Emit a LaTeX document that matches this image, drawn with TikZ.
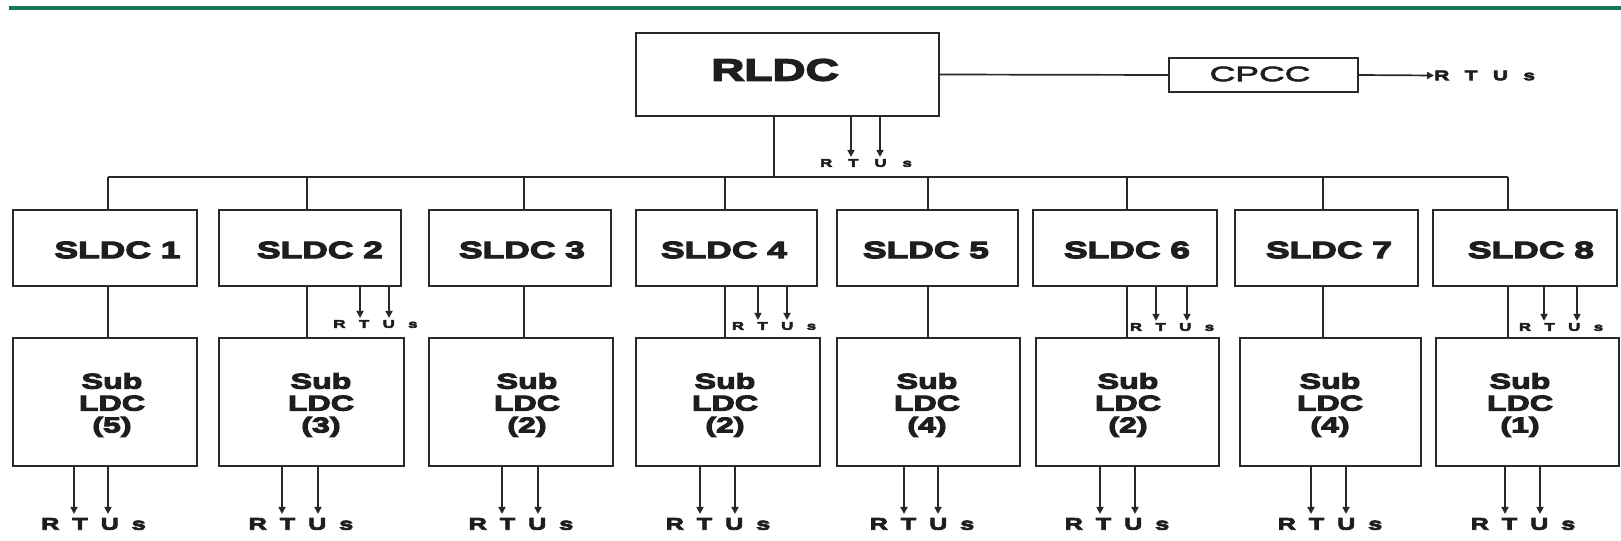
\documentclass[tikz,border=0pt]{standalone}
\usepackage{fontspec}
\setmainfont{Liberation Sans}
\newfontfamily\wf{Liberation Sans}[FakeStretch=1.5,FakeBold=5]
\newfontfamily\cf{Liberation Sans}[FakeStretch=1.7,FakeBold=3]
\usetikzlibrary{arrows.meta}
\definecolor{hdr}{RGB}{22,118,82}
\definecolor{ln}{RGB}{40,40,40}
\definecolor{tx}{RGB}{30,30,30}
\newcommand\rtus[1]{R\hspace{#1}T\hspace{#1}U\hspace{#1}s}
\begin{document}
\begin{tikzpicture}[x=1bp,y=-1bp,
  box/.style={draw=ln,line width=1.9bp,inner sep=0pt},
  conn/.style={draw=ln,line width=1.7bp},
  arr/.style={conn,-{Triangle[length=7bp,width=7bp]}},
  rldcf/.style={text=tx,inner sep=0pt,font=\wf\bfseries\fontsize{30.7}{32}\selectfont},
  cpccf/.style={text=tx,inner sep=0pt,font=\cf\fontsize{21}{22}\selectfont},
  sldcf/.style={text=tx,inner sep=0pt,font=\wf\bfseries\fontsize{23.7}{25}\selectfont},
  subf/.style={text=tx,inner sep=0pt,align=center,font=\wf\bfseries\fontsize{21.5}{22}\selectfont},
  rtb/.style={text=tx,inner sep=0pt,font=\wf\bfseries\fontsize{16.8}{17}\selectfont},
  rts/.style={text=tx,inner sep=0pt,font=\wf\bfseries\fontsize{11.2}{12}\selectfont},
  rtm/.style={text=tx,inner sep=0pt,font=\wf\bfseries\fontsize{14}{15}\selectfont},
]
\useasboundingbox (0,0) rectangle (1621,541);
% header rule
\draw[hdr,line width=4bp] (9,8.5) -- (1621,8.5);

% top level
\node[box,minimum width=303bp,minimum height=83bp] (rldc) at (787.5,74.5) {};
\node[rldcf] (rldct) at (775,70) {RLDC};
\node[box,minimum width=189bp,minimum height=34bp] (cpcc) at (1263.5,75) {};
\node[cpccf] (cpcct) at (1260,74) {CPCC};
\draw[conn] (rldc.east) -- (cpcc.west);
\node[rtm,anchor=west] (cpr) at (1434,75.5) {\rtus{15.4bp}};
\draw[arr] (cpcc.east) -- (cpr.west);

\node[rts] (rr) at (866,163) {\rtus{16bp}};
\coordinate (rra) at (851,0);
\coordinate (rrb) at (880,0);
\draw[arr,shorten >=2bp] (rldc.south -| rra) -- (rr.north -| rra);
\draw[arr,shorten >=2bp] (rldc.south -| rrb) -- (rr.north -| rrb);

\coordinate (rbus) at (774,177);
\draw[conn] (rldc.south -| rbus) -- (rbus);

% SLDC and Sub LDC columns
\foreach \i/\sa/\sb/\stx/\ba/\bb/\btx/\n/\cx in {
  1/13/197/117.5/13/197/112/5/108,
  2/219/401/320/219/404/321/3/307,
  3/429/611/522/429/613/527/2/524,
  4/636/817/724/636/820/725/2/725,
  5/837/1018/926/837/1020/927/4/928,
  6/1033/1217/1127/1036/1219/1128/2/1127,
  7/1235/1418/1329/1240/1421/1330/4/1323,
  8/1433/1617/1531/1436/1619/1520/1/1508}{
  \node[box,minimum width={(\sb-\sa)*1bp},minimum height=76bp] (s\i) at ({(\sa+\sb)/2},248) {};
  \node[sldcf] (st\i) at (\stx,250) {SLDC \i};
  \node[box,minimum width={(\bb-\ba)*1bp},minimum height=128bp] (b\i) at ({(\ba+\bb)/2},402) {};
  \node[subf] (bt\i) at (\btx,405) {Sub\\LDC\\(\n)};
  \coordinate (c\i) at (\cx,177);
  \draw[conn] (c\i) -- (c\i |- s\i.north);
  \draw[conn] (s\i.south -| c\i) -- (b\i.north -| c\i);
}
\draw[conn] (c1) -- (c8);

% RTUs below Sub LDCs
\foreach \i/\xa/\xb/\lx in {1/74/108/93.5, 2/282/318/301, 3/502/538/521, 4/700/735/718, 5/904/938/922, 6/1100/1135/1117, 7/1311/1346/1330, 8/1505/1540/1523}{
  \node[rtb] (r\i) at (\lx,524) {\rtus{13bp}};
  \coordinate (ra\i) at (\xa,0);
  \coordinate (rb\i) at (\xb,0);
  \draw[arr,shorten >=4bp] (b\i.south -| ra\i) -- (r\i.north -| ra\i);
  \draw[arr,shorten >=4bp] (b\i.south -| rb\i) -- (r\i.north -| rb\i);
}

% RTUs below some SLDCs
\foreach \i/\xa/\xb/\lx/\ly in {2/360/389/375.5/324, 4/758/787/774/326, 6/1156/1187/1172/327, 8/1544/1577/1561/327}{
  \node[rts] (q\i) at (\lx,\ly) {\rtus{13.5bp}};
  \coordinate (qa\i) at (\xa,0);
  \coordinate (qb\i) at (\xb,0);
  \draw[arr,shorten >=2bp] (s\i.south -| qa\i) -- (q\i.north -| qa\i);
  \draw[arr,shorten >=2bp] (s\i.south -| qb\i) -- (q\i.north -| qb\i);
}
\end{tikzpicture}
\end{document}
